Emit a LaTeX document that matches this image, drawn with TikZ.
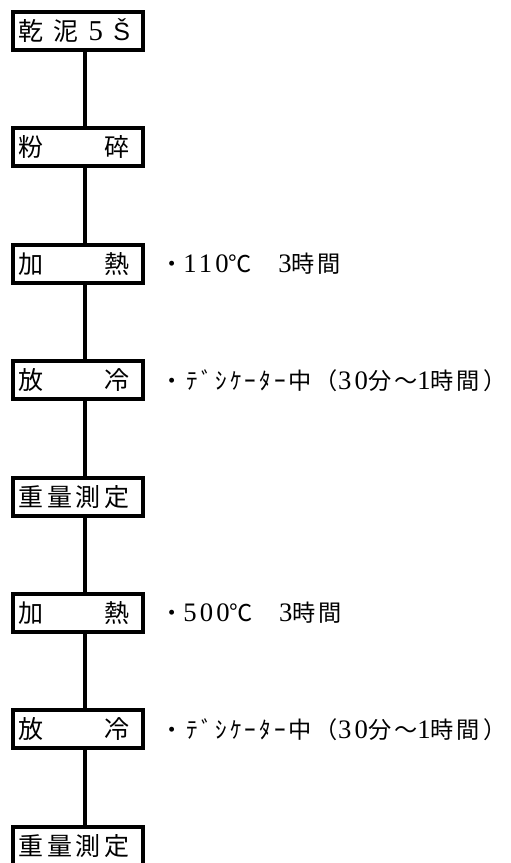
\documentclass[tikz,border=0pt]{standalone}
\usepackage{fontspec}
\newfontfamily\jp{Noto Sans CJK JP}
\newfontfamily\jpw[LetterSpace=13]{Noto Sans CJK JP}
\newfontfamily\lat{Liberation Sans}
\newfontfamily\ser[LetterSpace=12,Scale=1.15]{Liberation Serif}
\begin{document}
\begin{tikzpicture}[x=1pt,y=-1pt,
  stepbox/.style={draw=black, line width=4pt, fill=white, inner sep=0pt,
    minimum width=130pt, minimum height=38pt, font=\jp\fontsize{25}{25}\selectfont},
  link/.style={line width=4pt},
  note/.style={anchor=west, inner sep=0pt, font=\jpw\fontsize{23.2}{24}\selectfont}]
\useasboundingbox (0,0) rectangle (511,863);
\clip (0,0) rectangle (511,863);
\newcommand{\bx}[1]{\makebox[120pt][l]{\makebox[112pt]{#1}}}
\node[stepbox] (b0) at (78,31) {\bx{乾\hfill 泥\hfill {\ser 5}\hfill {\lat Š}}};
\node[stepbox] (b1) at (78,147.4) {\bx{粉\hfill 碎}};
\node[stepbox] (b2) at (78,263.8) {\bx{加\hfill 熱}};
\node[stepbox] (b3) at (78,380.2) {\bx{放\hfill 冷}};
\node[stepbox] (b4) at (78,496.6) {\bx{重\hfill 量\hfill 測\hfill 定}};
\node[stepbox] (b5) at (78,613.0) {\bx{加\hfill 熱}};
\node[stepbox] (b6) at (78,729.4) {\bx{放\hfill 冷}};
\node[stepbox] (b7) at (78,845.8) {\bx{重\hfill 量\hfill 測\hfill 定}};
\foreach \a/\b in {b0/b1,b1/b2,b2/b3,b3/b4,b4/b5,b5/b6,b6/b7}
  \draw[link] (85,0 |- \a.south) -- (85,0 |- \b.north);
\node[note] (n2) at (160,263.8) {・{\ser 110}℃　{\ser 3}時間};
\node[note] (n3) at (160,380.2) {・ﾃﾞｼｹｰﾀｰ中（{\ser 30}分～{\ser 1}時間）};
\node[note] (n5) at (160,613.0) {・{\ser 500}℃　{\ser 3}時間};
\node[note] (n6) at (160,729.4) {・ﾃﾞｼｹｰﾀｰ中（{\ser 30}分～{\ser 1}時間）};
\end{tikzpicture}
\end{document}
